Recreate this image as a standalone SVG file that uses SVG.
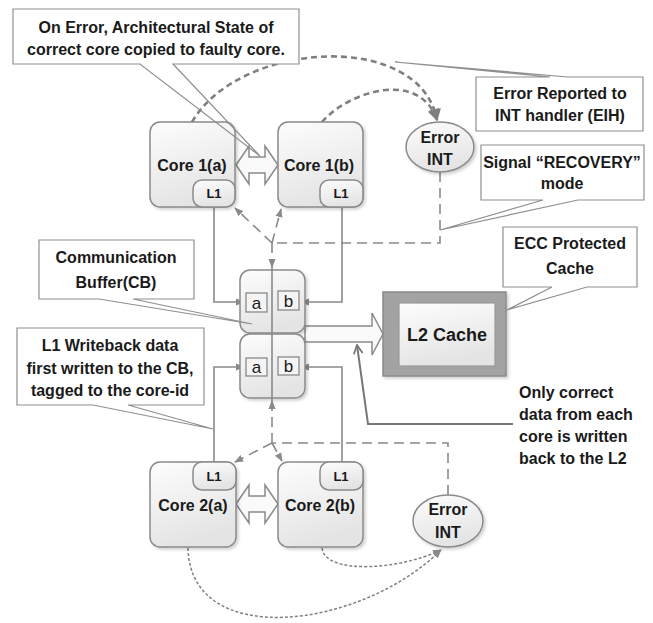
<svg xmlns="http://www.w3.org/2000/svg" width="653" height="623" viewBox="0 0 653 623">
<defs>
<style>
text{font-family:"Liberation Sans",Arial,sans-serif;fill:#1a1a1a;}
.t{font-size:16px;font-weight:bold;text-anchor:middle;}
.tl{font-size:16px;font-weight:bold;}
.s{font-size:13px;font-weight:bold;text-anchor:middle;}
.ab{font-size:17px;text-anchor:middle;}
.core{fill:url(#g1);stroke:#8a8a8a;stroke-width:1.5;filter:url(#sh);}
.tab{fill:url(#g1);stroke:#8a8a8a;stroke-width:1.5;}
.cbox{fill:#fff;stroke:none;}
.cout{fill:none;stroke:#8f8f8f;stroke-width:1.2;}
.sol{fill:none;stroke:#8a8a8a;stroke-width:1.6;}
.dash{fill:none;stroke:#8a8a8a;stroke-width:1.6;stroke-dasharray:10 6;}
.tdash{fill:none;stroke:#7f7f7f;stroke-width:2.6;stroke-dasharray:6 4;}
.dot{fill:none;stroke:#808080;stroke-width:1.5;stroke-dasharray:3 2;}
.dbl{fill:#fafafa;stroke:#8a8a8a;stroke-width:1.5;}
.sq{fill:#f4f4f4;stroke:#8a8a8a;stroke-width:1.3;}
</style>
<linearGradient id="g1" x1="0" y1="0" x2="0.3" y2="1">
<stop offset="0" stop-color="#fdfdfd"/>
<stop offset="1" stop-color="#e4e4e4"/>
</linearGradient>
<filter id="sh" x="-10%" y="-10%" width="130%" height="130%">
<feDropShadow dx="2" dy="2" stdDeviation="1.5" flood-color="#000" flood-opacity="0.18"/>
</filter>
<marker id="ah" viewBox="0 0 10 10" refX="9" refY="5" markerWidth="9" markerHeight="9" markerUnits="userSpaceOnUse" orient="auto">
<path d="M0,1 L10,5 L0,9 Z" fill="#8a8a8a"/>
</marker>
<marker id="ahb" viewBox="0 0 10 10" refX="9" refY="5" markerWidth="15" markerHeight="12" markerUnits="userSpaceOnUse" orient="auto">
<path d="M0,0 L10,5 L0,10 Z" fill="#7f7f7f"/>
</marker>
<marker id="ahv" viewBox="0 0 10 10" refX="9" refY="5" markerWidth="11" markerHeight="11" markerUnits="userSpaceOnUse" orient="auto">
<path d="M1,1 L9,5 L1,9" fill="none" stroke="#777" stroke-width="1.6"/>
</marker>
</defs>
<rect width="653" height="623" fill="#fff"/>

<g id="connectors">
<path class="tdash" d="M192,122 C240,40 420,30 437,120" marker-end="url(#ahb)"/>
<path class="tdash" d="M322,122 C350,90 420,70 437,120" marker-end="url(#ahb)"/>
<path class="sol" d="M214,207 V302 H244" marker-end="url(#ah)"/>
<path class="sol" d="M342,207 V302 H301" marker-end="url(#ah)"/>
<path class="sol" d="M214,462 V367 H244" marker-end="url(#ah)"/>
<path class="sol" d="M342,462 V367 H301" marker-end="url(#ah)"/>
<path class="dash" d="M440,172 V243 H272"/>
<path class="dash" d="M272,243 L235,208" marker-end="url(#ah)"/>
<path class="dash" d="M272,243 L281,209" marker-end="url(#ah)"/>
<path class="dash" d="M272,243 V267" marker-end="url(#ah)"/>
<path class="dash" d="M448,495 V443 H272"/>
<path class="dash" d="M272,443 L235,462" marker-end="url(#ah)"/>
<path class="dash" d="M272,443 L282,461" marker-end="url(#ah)"/>
<path class="dash" d="M272,443 V401" marker-end="url(#ah)"/>
<path class="dot" d="M322,548 C325,575 400,570 441,550" marker-end="url(#ah)"/>
<path class="dot" d="M188,548 C190,650 360,630 441,550" marker-end="url(#ah)"/>
<path fill="none" stroke="#777" stroke-width="2" d="M513,424 H368 L357,345" marker-end="url(#ahv)"/>
<path class="dbl" d="M236,165 L249,146 L249,157 L265,157 L265,146 L278,165 L265,184 L265,173 L249,173 L249,184 Z"/>
<path class="dbl" d="M236,504 L249,485 L249,496 L265,496 L265,485 L278,504 L265,523 L265,512 L249,512 L249,523 Z"/>
<path class="dbl" d="M305,326 H372 V313 L383,334 L372,355 V342 H305 Z"/>
</g>

<g id="core1a">
<rect class="core" x="150" y="122" width="85" height="85" rx="10"/>
<rect class="tab" x="193" y="180" width="42" height="27" rx="9"/>
<text class="t" x="192" y="171">Core 1(a)</text>
<text class="s" x="214" y="198">L1</text>
</g>
<g id="core1b">
<rect class="core" x="278" y="122" width="85" height="85" rx="10"/>
<rect class="tab" x="320" y="180" width="43" height="27" rx="9"/>
<text class="t" x="319" y="171">Core 1(b)</text>
<text class="s" x="341" y="198">L1</text>
</g>
<g id="core2a">
<rect class="core" x="150" y="462" width="86" height="85" rx="10"/>
<rect class="tab" x="193" y="462" width="43" height="28" rx="9"/>
<text class="t" x="193" y="511">Core 2(a)</text>
<text class="s" x="214" y="481">L1</text>
</g>
<g id="core2b">
<rect class="core" x="278" y="462" width="85" height="85" rx="10"/>
<rect class="tab" x="320" y="462" width="43" height="28" rx="9"/>
<text class="t" x="320" y="511">Core 2(b)</text>
<text class="s" x="341" y="481">L1</text>
</g>

<g id="cb">
<rect class="core" x="240" y="270" width="65" height="63" rx="10"/>
<rect class="core" x="240" y="334" width="65" height="64" rx="10"/>
<rect class="sq" x="246" y="293" width="21" height="19"/>
<rect class="sq" x="278" y="291" width="21" height="19"/>
<rect class="sq" x="246" y="358" width="21" height="18"/>
<rect class="sq" x="278" y="357" width="21" height="18"/>
<text class="ab" x="256.5" y="309">a</text>
<text class="ab" x="288.5" y="307">b</text>
<text class="ab" x="256.5" y="373">a</text>
<text class="ab" x="288.5" y="372">b</text>
<path class="sol" d="M272,266 V401"/>
</g>

<g id="errint1">
<ellipse cx="440" cy="147" rx="34" ry="25" fill="url(#g1)" stroke="#8a8a8a" stroke-width="1.5" filter="url(#sh)"/>
<text class="t" x="440" y="143">Error</text>
<text class="t" x="440" y="165">INT</text>
</g>
<g id="errint2">
<ellipse cx="448" cy="521" rx="35" ry="26" fill="url(#g1)" stroke="#8a8a8a" stroke-width="1.5" filter="url(#sh)"/>
<text class="t" x="448" y="515">Error</text>
<text class="t" x="448" y="538">INT</text>
</g>

<g id="l2cache">
<rect x="383" y="292" width="123" height="84" fill="#a3a3a3" stroke="#8a8a8a" stroke-width="1.5" filter="url(#sh)"/>
<rect x="399" y="303" width="96" height="63" fill="url(#g1)" stroke="#999" stroke-width="1.2"/>
<text class="t" x="447" y="341" style="font-size:18px">L2 Cache</text>
</g>

<g id="callout-arch">
<rect class="cbox" x="13" y="9" width="286" height="55"/>
<path class="cout" d="M13,9 H299 V64 H173 L260,156 L140,64 H13 Z"/>
<text class="t" x="156" y="33">On Error, Architectural State of</text>
<text class="t" x="156" y="55">correct core copied to faulty core.</text>
</g>
<g id="callout-eih">
<rect class="cbox" x="476" y="77" width="167" height="54"/>
<path class="cout" d="M476,77 H550 L395,62 L568,77 H643 V131 H476 Z"/>
<text class="t" x="560" y="99">Error Reported to</text>
<text class="t" x="560" y="121">INT handler (EIH)</text>
</g>
<g id="callout-recovery">
<rect class="cbox" x="481" y="145" width="163" height="55"/>
<path class="cout" d="M481,145 H644 V200 H578 L440,230 L543,200 H481 Z"/>
<text class="t" x="562" y="168">Signal “RECOVERY”</text>
<text class="t" x="562" y="189">mode</text>
</g>
<g id="callout-ecc">
<rect class="cbox" x="503" y="227" width="134" height="60"/>
<path class="cout" d="M503,227 H637 V287 H587 L507,310 L552,287 H503 Z"/>
<text class="t" x="570" y="249">ECC Protected</text>
<text class="t" x="570" y="274">Cache</text>
</g>
<g id="callout-cb">
<rect class="cbox" x="39" y="240" width="155" height="59"/>
<path class="cout" d="M39,240 H194 V299 H133 L252,324 L99,299 H39 Z"/>
<text class="t" x="116" y="263">Communication</text>
<text class="t" x="116" y="288">Buffer(CB)</text>
</g>
<g id="callout-wb">
<rect class="cbox" x="17" y="328" width="187" height="77"/>
<path class="cout" d="M17,328 H204 V405 H128 L213,429 L93,405 H17 Z"/>
<text class="t" x="110" y="351">L1 Writeback data</text>
<text class="t" x="110" y="374">first written to the CB,</text>
<text class="t" x="110" y="396">tagged to the core-id</text>
</g>
<g id="note-l2">
<text class="tl" x="519" y="398">Only correct</text>
<text class="tl" x="519" y="420">data from each</text>
<text class="tl" x="519" y="442">core is written</text>
<text class="tl" x="519" y="464">back to the L2</text>
</g>
</svg>
